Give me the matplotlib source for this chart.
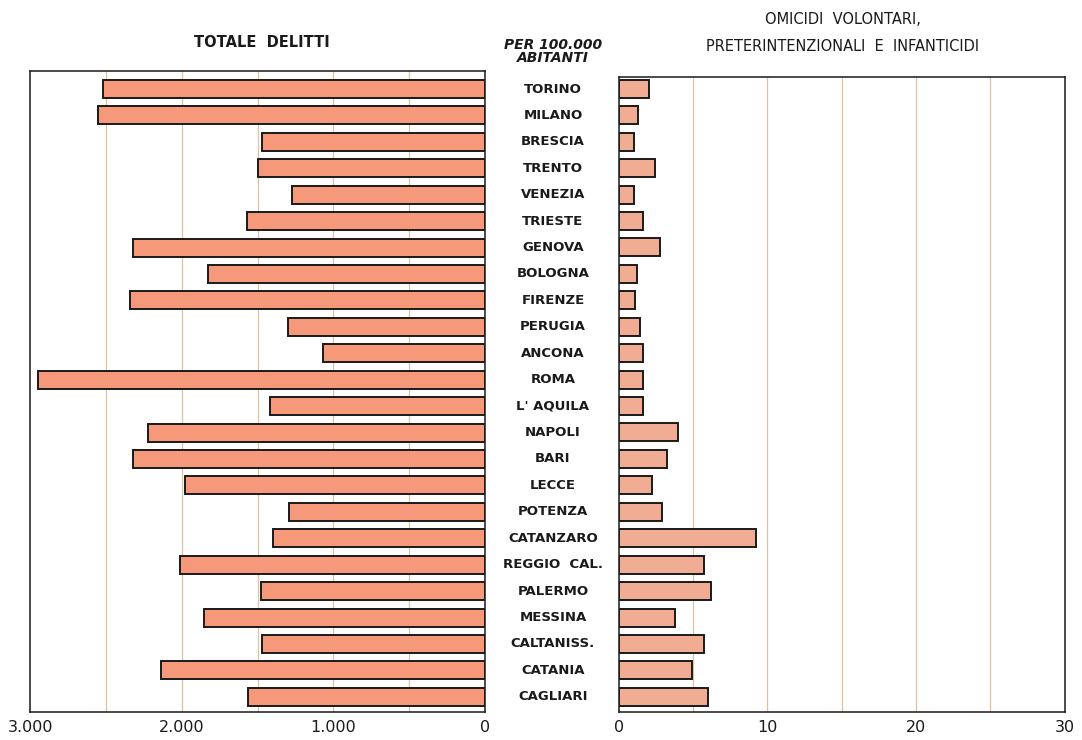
import matplotlib.pyplot as plt
from matplotlib.ticker import FuncFormatter

# Province names, top to bottom
province = [
    "TORINO", "MILANO", "BRESCIA", "TRENTO", "VENEZIA", "TRIESTE", "GENOVA",
    "BOLOGNA", "FIRENZE", "PERUGIA", "ANCONA", "ROMA", "L' AQUILA", "NAPOLI",
    "BARI", "LECCE", "POTENZA", "CATANZARO", "REGGIO  CAL.", "PALERMO",
    "MESSINA", "CALTANISS.", "CATANIA", "CAGLIARI",
]

# Totale delitti per 100.000 abitanti
totale_delitti = [
    2520, 2550, 1470, 1500, 1270, 1570, 2320,
    1830, 2340, 1300, 1070, 2950, 1420, 2220,
    2320, 1980, 1290, 1400, 2010, 1480,
    1850, 1470, 2140, 1560,
]

# Omicidi volontari, preterintenzionali e infanticidi per 100.000 abitanti
omicidi = [
    2.0, 1.3, 1.0, 2.4, 1.0, 1.65, 2.75,
    1.25, 1.1, 1.4, 1.6, 1.6, 1.6, 4.0,
    3.25, 2.2, 2.9, 9.2, 5.7, 6.2,
    3.8, 5.75, 4.9, 6.0,
]

left_ticks = [3000, 2000, 1000, 0]
right_ticks = [0, 10, 20, 30]

BAR_LEFT = "#f5997a"
BAR_RIGHT = "#f1ad93"
GRID = "#dcc3a6"
INK = "#1a1a1a"

plt.rcParams["font.family"] = ["DejaVu Sans"]

fig = plt.figure(figsize=(10.82, 7.40), dpi=100)
ax1 = fig.add_axes([0.028, 0.038, 0.420, 0.866])
ax2 = fig.add_axes([0.572, 0.038, 0.412, 0.858])

y = list(range(len(province)))
n = len(province)

for ax, values, color, lim, ticks, grid_step, top in [
    (ax1, totale_delitti, BAR_LEFT, (3000, 0), left_ticks, 500, -0.68),
    (ax2, omicidi, BAR_RIGHT, (0, 30), right_ticks, 5, -0.45),
]:
    ax.barh(y, values, height=0.68, color=color, edgecolor=INK,
            linewidth=1.4, zorder=3)
    ax.set_xlim(*lim)
    ax.set_ylim(n - 1 + 0.57, top)
    lo, hi = min(lim), max(lim)
    for g in range(lo + grid_step, hi, grid_step):
        ax.axvline(g, color=GRID, linewidth=0.9, zorder=1)
    ax.set_xticks(ticks)
    ax.set_yticks([])
    ax.tick_params(axis="x", length=0, labelsize=11.5, pad=6, colors=INK)
    for s in ax.spines.values():
        s.set_color(INK)
        s.set_linewidth(1.1)

ax1.xaxis.set_major_formatter(
    FuncFormatter(lambda v, p: f"{int(v):,}".replace(",", "."))
)
ax2.xaxis.set_major_formatter(FuncFormatter(lambda v, p: f"{int(v)}"))

# City labels in the middle column
for i, name in enumerate(province):
    fig.text(0.511, ax1.transData.transform((0, i))[1] / fig.bbox.height,
             name, ha="center", va="center", fontsize=9.5,
             fontweight="bold", color=INK)

# Titles
fig.text(0.242, 0.943, "TOTALE  DELITTI", ha="center", va="center",
         fontsize=10.5, fontweight="bold", color=INK)
fig.text(0.511, 0.930, "PER 100.000\nABITANTI", ha="center", va="center",
         fontsize=10, fontstyle="italic", fontweight="bold", color=INK,
         linespacing=0.9)
fig.text(0.779, 0.955, "OMICIDI  VOLONTARI,\nPRETERINTENZIONALI  E  INFANTICIDI",
         ha="center", va="center", fontsize=10.5, color=INK, linespacing=2.0)

fig.savefig("out.png", dpi=100)
